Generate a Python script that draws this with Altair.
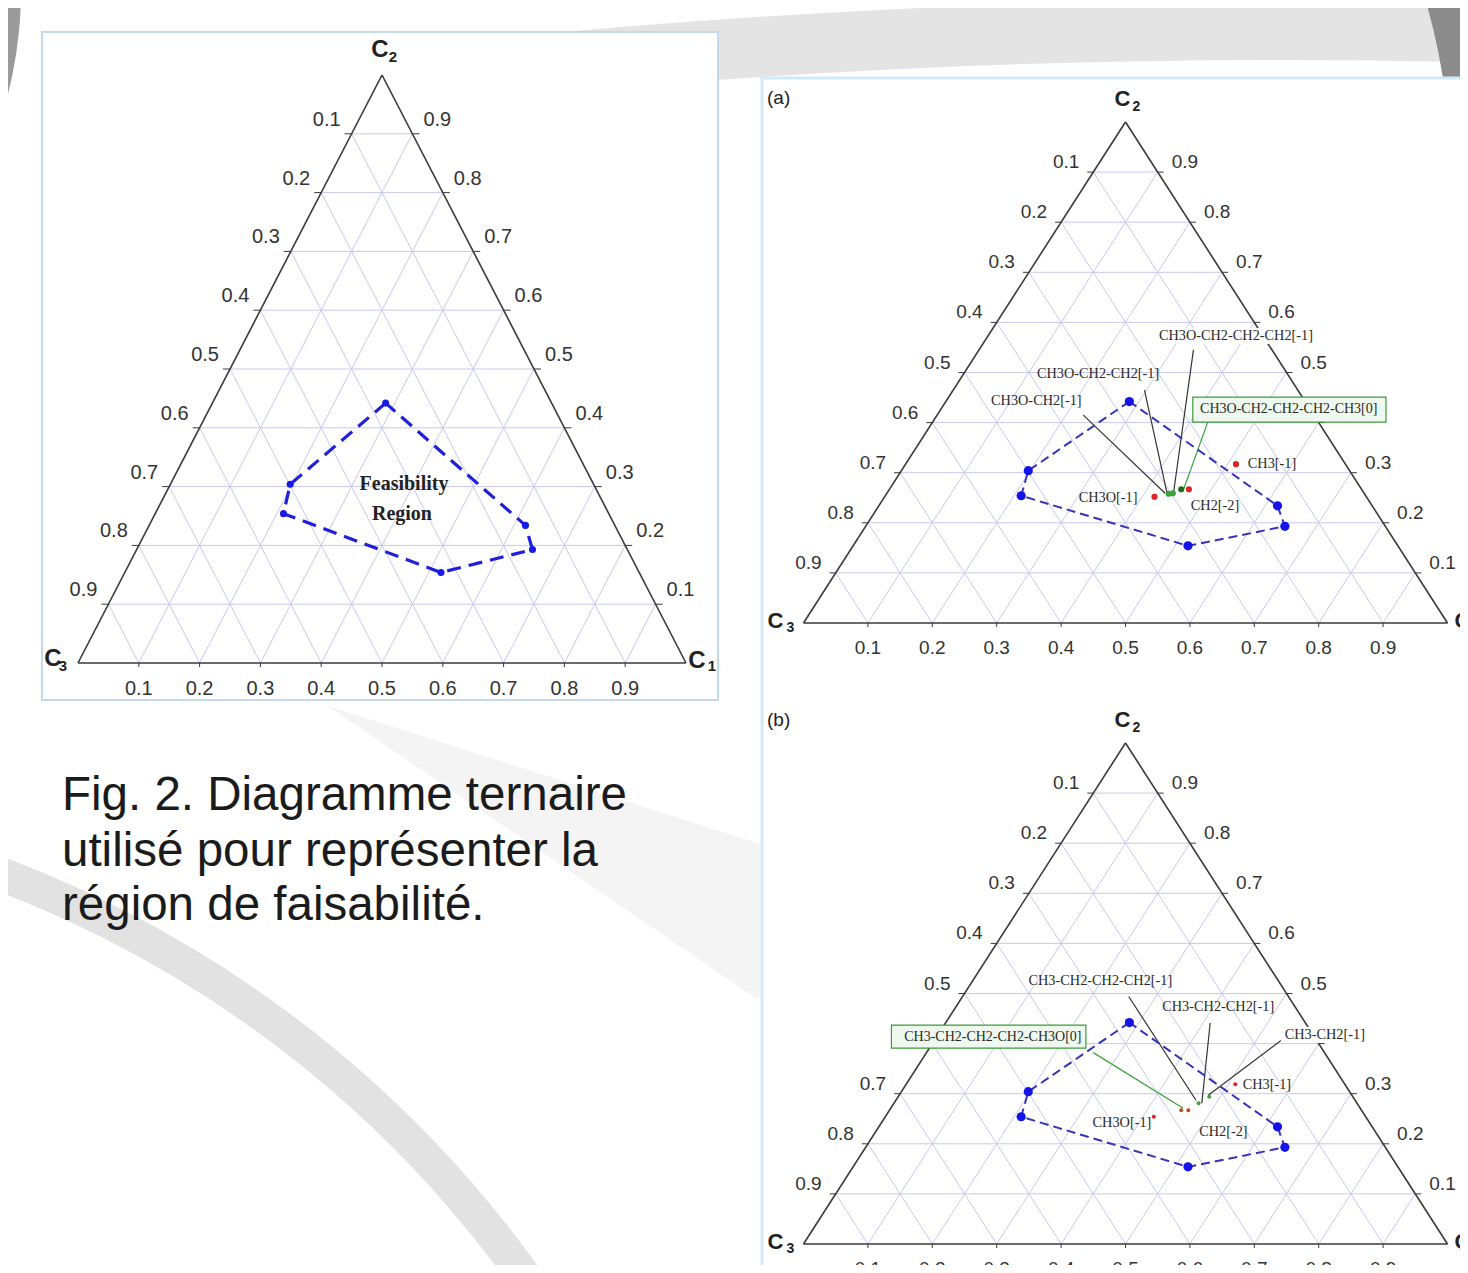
import altair as alt
import pandas as pd

# ---------------- data ----------------
LEVELS = [0.1, 0.2, 0.3, 0.4, 0.5, 0.6, 0.7, 0.8, 0.9]
LEVEL_TEXT = ["0.1", "0.2", "0.3", "0.4", "0.5", "0.6", "0.7", "0.8", "0.9"]

# feasibility polygon, ternary fractions (C1, C2); C3 = 1 - C1 - C2
POLY_C1 = [0.285, 0.197, 0.211, 0.520, 0.651, 0.619]
POLY_C2 = [0.442, 0.304, 0.254, 0.154, 0.193, 0.234]

# panel (a) group points
A_PT_C1 = [0.513, 0.419, 0.465, 0.438, 0.444, 0.453]
A_PT_C2 = [0.317, 0.252, 0.267, 0.258, 0.259, 0.267]
A_PT_COL = ["#e02424", "#e02424", "#e02424", "#3aa33a", "#3aa33a", "#1d6b1d"]
A_LAB_TEXT = ["CH3O-CH2-CH2-CH2[-1]", "CH3O-CH2-CH2[-1]", "CH3O-CH2[-1]", "CH3[-1]", "CH3O[-1]", "CH2[-2]"]
A_LAB_C1 = [0.385, 0.209, 0.140, 0.569, 0.348, 0.522]
A_LAB_C2 = [0.573, 0.497, 0.443, 0.317, 0.250, 0.234]
A_BOX_TEXT = "CH3O-CH2-CH2-CH2-CH3[0]"
A_BOX_C1 = [0.540, 0.379, 0.704]   # centre, corner 1, corner 2
A_BOX_C2 = [0.427, 0.451, 0.401]
A_LEAD_FROM_C1 = [0.227, 0.297, 0.333, 0.427]
A_LEAD_FROM_C2 = [0.415, 0.465, 0.545, 0.402]
A_LEAD_TO_C1 = [0.432, 0.435, 0.445, 0.457]
A_LEAD_TO_C2 = [0.259, 0.259, 0.259, 0.266]
A_LEAD_COL = ["#333333", "#333333", "#333333", "#3aa33a"]

# panel (b) group points
B_PT_C1 = [0.511, 0.417, 0.453, 0.464, 0.473, 0.483]
B_PT_C2 = [0.319, 0.254, 0.267, 0.267, 0.281, 0.294]
B_PT_COL = ["#e02424", "#e02424", "#b84a2a", "#b84a2a", "#3aa33a", "#3aa33a"]
B_LAB_TEXT = ["CH3-CH2-CH2-CH2[-1]", "CH3-CH2-CH2[-1]", "CH3-CH2[-1]", "CH3[-1]", "CH3O[-1]", "CH2[-2]"]
B_LAB_C1 = [0.199, 0.407, 0.601, 0.561, 0.374, 0.540]
B_LAB_C2 = [0.524, 0.474, 0.417, 0.317, 0.241, 0.224]
B_BOX_TEXT = "CH3-CH2-CH2-CH2-CH3O[0]"
B_BOX_C1 = [0.087, -0.082, 0.243]
B_BOX_C2 = [0.414, 0.437, 0.391]
B_LEAD_FROM_C1 = [0.259, 0.258, 0.411, 0.539]
B_LEAD_FROM_C2 = [0.382, 0.494, 0.441, 0.407]
B_LEAD_TO_C1 = [0.454, 0.466, 0.478, 0.480]
B_LEAD_TO_C2 = [0.271, 0.287, 0.281, 0.297]
B_LEAD_COL = ["#3aa33a", "#333333", "#333333", "#333333"]

CAPTION = ["Fig. 2. Diagramme ternaire", "utilisé pour représenter la", "région de faisabilité."]
REGION_TEXT = ["Feasibility", "Region"]

# ---------------- layout ----------------
W_CH, H_CH = 1452, 1257
# panel: C3-vertex x, base y, base width, height
PANELS = {"main": (78.0, 663.0, 608.0, 588.0),
          "a": (803.5, 623.0, 644.0, 501.0),
          "b": (803.5, 1244.0, 644.0, 501.0)}
STYLE = {"main": dict(gap=11, off=14, boff=26, fs=20, tl=7),
         "a": dict(gap=14, off=10, boff=25, fs=19, tl=6),
         "b": dict(gap=14, off=10, boff=25, fs=19, tl=6)}


def proj(p, c1, c2):
    x0, base, w, h = PANELS[p]
    return x0 + w * (c1 + c2 / 2.0), base - h * c2


xs = alt.Scale(domain=[8, 8 + W_CH], range=[0, W_CH], nice=False, zero=False)
ys = alt.Scale(domain=[8, 8 + H_CH], range=[0, H_CH], nice=False, zero=False)
X = alt.X("x:Q", scale=xs, axis=None)
Y = alt.Y("y:Q", scale=ys, axis=None)


def seg_df(rows):
    return pd.DataFrame(rows, columns=["x", "y", "x2", "y2", "c"])


# grid / edges / ticks
grid, edges, ticks = [], [], []
lab_l, lab_r, lab_b = [], [], []
for p in PANELS:
    st = STYLE[p]
    for i, k in enumerate(LEVELS):
        for a, b in [((0, k), (1 - k, k)), ((k, 0), (k, 1 - k)), ((1 - k, 0), (0, 1 - k))]:
            xa, ya = proj(p, *a)
            xb, yb = proj(p, *b)
            grid.append((xa, ya, xb, yb, ""))
        xl, yl = proj(p, 0, k)
        ticks.append((xl, yl, xl - st["tl"], yl, ""))
        xr, yr = proj(p, 1 - k, k)
        ticks.append((xr, yr, xr + st["tl"], yr, ""))
        xb_, yb_ = proj(p, k, 0)
        ticks.append((xb_, yb_, xb_, yb_ + 4, ""))
        xl2, yl2 = proj(p, 0, 1 - k)
        lab_l.append(dict(x=xl2 - st["gap"], y=yl2 - st["off"], t=LEVEL_TEXT[i], fs=st["fs"]))
        lab_r.append(dict(x=xr + st["gap"], y=yr - st["off"], t=LEVEL_TEXT[i], fs=st["fs"]))
        lab_b.append(dict(x=xb_, y=yb_ + st["boff"], t=LEVEL_TEXT[i], fs=st["fs"]))
    for a, b in [((0, 0), (1, 0)), ((1, 0), (0, 1)), ((0, 1), (0, 0))]:
        xa, ya = proj(p, *a)
        xb, yb = proj(p, *b)
        edges.append((xa, ya, xb, yb, ""))

seg_enc = dict(x=X, y=Y, x2="x2:Q", y2="y2:Q")

layers = []

# ---------- background decoration (slide template swooshes) ----------
bg = pd.DataFrame([dict(x=8, y=8, x2=8 + W_CH, y2=8 + H_CH)])
layers.append(alt.Chart(bg).mark_rect(color="white").encode(**seg_enc))

ARCS = [  # centre x, centre y, inner r, outer r, theta1, theta2, colour
    (328, 706, 0, 520, 1.88, 2.17, "#f4f4f4"),        # faint wedge right of caption
    (-405, 1945, 1128, 1162, 0.28, 1.05, "#e2e2e2"),  # lower-left swoosh
    (1279, 8000, 7940, 8000, 6.17, 6.32, "#e4e4e4"),  # top band
    (-400, -10, 0, 421, 0.0, 6.2832, "#9a9a9a"),      # top-left dark corner
    (850, 170, 600, 632, 1.15, 1.75, "#8c8c8c"),      # top-right dark corner
]
for cx, cy, r1, r2, t1, t2, col in ARCS:
    layers.append(alt.Chart(pd.DataFrame([dict(x=cx, y=cy)])).mark_arc(
        radius=r2, radius2=r1, theta=t1, theta2=t2, color=col).encode(x=X, y=Y))

# panel boxes
boxes = pd.DataFrame([dict(x=42, y=32, x2=718, y2=700), dict(x=762, y=78, x2=1490, y2=1300)])
layers.append(alt.Chart(boxes.iloc[[0]]).mark_rect(fill="white", stroke="#c3d9ec", strokeWidth=2).encode(**seg_enc))
layers.append(alt.Chart(boxes.iloc[[1]]).mark_rect(fill="white", stroke="#d3e9f8", strokeWidth=3).encode(**seg_enc))

# grid, edges, ticks
layers.append(alt.Chart(seg_df(grid)).mark_rule(color="#c9c9ee", strokeWidth=1).encode(**seg_enc))
layers.append(alt.Chart(seg_df(edges)).mark_rule(color="#3a3a3a", strokeWidth=1.6).encode(**seg_enc))
layers.append(alt.Chart(seg_df(ticks)).mark_rule(color="#3a3a3a", strokeWidth=1).encode(**seg_enc))

txt_enc = dict(x=X, y=Y, text="t:N", size=alt.Size("fs:Q", scale=None))
layers.append(alt.Chart(pd.DataFrame(lab_l)).mark_text(align="right", baseline="middle", font="Liberation Sans", color="#333").encode(**txt_enc))
layers.append(alt.Chart(pd.DataFrame(lab_r)).mark_text(align="left", baseline="middle", font="Liberation Sans", color="#333").encode(**txt_enc))
layers.append(alt.Chart(pd.DataFrame(lab_b)).mark_text(align="center", baseline="middle", font="Liberation Sans", color="#333").encode(**txt_enc))

# vertex labels (C with subscript)
VOFF = {"main": dict(C2=((-2, -25), (11, -18)), C3=((-25, -4), (-15, 3)), C1=((11, -2), (26, 3)), big=24, sub=15),
        "a": dict(C2=((-3, -23), (11, -15)), C3=((-28, -2), (-13, 5)), C1=((15, -2), (28, 4)), big=22, sub=14)}
VOFF["b"] = VOFF["a"]
vtx = []
for p in PANELS:
    o = VOFF[p]
    for name, (c1, c2) in [("C2", (0, 1)), ("C3", (0, 0)), ("C1", (1, 0))]:
        vx, vy = proj(p, c1, c2)
        (bx, by), (sx, sy) = o[name]
        vtx.append(dict(x=vx + bx, y=vy + by, t="C", fs=o["big"]))
        vtx.append(dict(x=vx + sx, y=vy + sy, t=name[1], fs=o["sub"]))
layers.append(alt.Chart(pd.DataFrame(vtx)).mark_text(align="center", baseline="middle", font="Liberation Sans",
                                                     fontWeight="bold", color="#222").encode(**txt_enc))

# annotation leader lines
lead = []
for fc1, fc2, tc1, tc2, col, p in [(A_LEAD_FROM_C1, A_LEAD_FROM_C2, A_LEAD_TO_C1, A_LEAD_TO_C2, A_LEAD_COL, "a"),
                                   (B_LEAD_FROM_C1, B_LEAD_FROM_C2, B_LEAD_TO_C1, B_LEAD_TO_C2, B_LEAD_COL, "b")]:
    for i in range(len(fc1)):
        xa, ya = proj(p, fc1[i], fc2[i])
        xb, yb = proj(p, tc1[i], tc2[i])
        lead.append((xa, ya, xb, yb, col[i]))
layers.append(alt.Chart(seg_df(lead)).mark_rule(strokeWidth=1.2).encode(
    **seg_enc, color=alt.Color("c:N", scale=None)))

# feasibility polygons
poly = []
for p in PANELS:
    for i in range(len(POLY_C1) + 1):
        j = i % len(POLY_C1)
        x, y = proj(p, POLY_C1[j], POLY_C2[j])
        poly.append(dict(p=p, o=i, x=x, y=y, isvertex=(i < len(POLY_C1))))
poly = pd.DataFrame(poly)
line_enc = dict(x=X, y=Y, order="o:Q", detail="p:N")
layers.append(alt.Chart(poly[poly["p"] == "main"]).mark_line(color="#1f1fdc", strokeWidth=3.2, strokeDash=[14, 8]).encode(**line_enc))
layers.append(alt.Chart(poly[poly["p"] != "main"]).mark_line(color="#3434b8", strokeWidth=2, strokeDash=[9, 5]).encode(**line_enc))
pts = poly[poly["isvertex"]]
layers.append(alt.Chart(pts[pts["p"] == "main"]).mark_circle(color="#1a1ae6", opacity=1, size=50).encode(x=X, y=Y))
layers.append(alt.Chart(pts[pts["p"] != "main"]).mark_circle(color="#1414e8", opacity=1, size=85).encode(x=X, y=Y))

# group-contribution points
gp = []
for c1s, c2s, cols, p in [(A_PT_C1, A_PT_C2, A_PT_COL, "a"), (B_PT_C1, B_PT_C2, B_PT_COL, "b")]:
    for i in range(len(c1s)):
        x, y = proj(p, c1s[i], c2s[i])
        gp.append(dict(x=x, y=y, c=cols[i], s=38 if p == "a" else 16))
layers.append(alt.Chart(pd.DataFrame(gp)).mark_circle(opacity=1).encode(
    x=X, y=Y, color=alt.Color("c:N", scale=None), size=alt.Size("s:Q", scale=None)))

# white backing behind labels that cross the triangle edge
back = []
for txt, c1, c2, p in [(A_LAB_TEXT[0], A_LAB_C1[0], A_LAB_C2[0], "a"), (B_LAB_TEXT[2], B_LAB_C1[2], B_LAB_C2[2], "b")]:
    x, y = proj(p, c1, c2)
    hw = len(txt) * 4.0
    back.append(dict(x=x - hw, x2=x + hw, y=y - 8, y2=y + 8))
layers.append(alt.Chart(pd.DataFrame(back)).mark_rect(color="white").encode(**seg_enc))

# green boxes
gbox = []
for c1s, c2s, p in [(A_BOX_C1, A_BOX_C2, "a"), (B_BOX_C1, B_BOX_C2, "b")]:
    xa, ya = proj(p, c1s[1], c2s[1])
    xb, yb = proj(p, c1s[2], c2s[2])
    gbox.append(dict(x=xa, y=ya, x2=xb, y2=yb))
layers.append(alt.Chart(pd.DataFrame(gbox)).mark_rect(fill="#eef8ee", stroke="#3d9a3d", strokeWidth=1.2).encode(**seg_enc))

# annotation labels
ann = []
for texts, c1s, c2s, p in [(A_LAB_TEXT, A_LAB_C1, A_LAB_C2, "a"), (B_LAB_TEXT, B_LAB_C1, B_LAB_C2, "b")]:
    for i in range(len(texts)):
        x, y = proj(p, c1s[i], c2s[i])
        ann.append(dict(x=x, y=y, t=texts[i], fs=14.3))
for txt, c1s, c2s, p in [(A_BOX_TEXT, A_BOX_C1, A_BOX_C2, "a"), (B_BOX_TEXT, B_BOX_C1, B_BOX_C2, "b")]:
    x, y = proj(p, c1s[0], c2s[0])
    ann.append(dict(x=x, y=y, t=txt, fs=14.0))
layers.append(alt.Chart(pd.DataFrame(ann)).mark_text(align="center", baseline="middle", font="Liberation Serif",
                                                     color="#2a2a2a").encode(**txt_enc))

# "Feasibility Region"
fx, fy = proj("main", 0.395, 0.279)
freg = pd.DataFrame([dict(x=fx + 1, y=fy - 15, t=REGION_TEXT[0], fs=20), dict(x=fx - 1, y=fy + 15, t=REGION_TEXT[1], fs=20)])
layers.append(alt.Chart(freg).mark_text(align="center", baseline="middle", font="Liberation Serif",
                                        fontWeight="bold", color="#222").encode(**txt_enc))

# panel tags and caption
tags = pd.DataFrame([dict(x=767, y=98, t="(a)", fs=19), dict(x=767, y=720, t="(b)", fs=19)])
layers.append(alt.Chart(tags).mark_text(align="left", baseline="middle", font="Liberation Sans", color="#222").encode(**txt_enc))
cap = pd.DataFrame([dict(x=62, y=yy, t=t, fs=47.5) for t, yy in zip(CAPTION, [796, 852, 906])])
layers.append(alt.Chart(cap).mark_text(align="left", baseline="middle", font="Liberation Sans", color="#1b1b1b").encode(**txt_enc))

chart = alt.layer(*layers).properties(
    width=W_CH, height=H_CH, padding=0, background="white",
    autosize=alt.AutoSizeParams(type="none"),
).configure_view(stroke=None)

chart.save("out.html", embed_options={"renderer": "svg", "actions": False})
